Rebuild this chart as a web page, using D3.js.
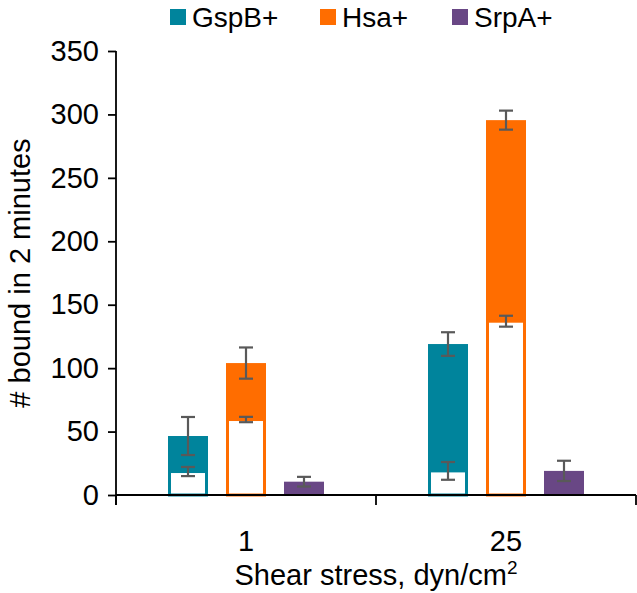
<!DOCTYPE html>
<html><head><meta charset="utf-8">
<script src="https://cdn.jsdelivr.net/npm/d3@7"></script>
<style>body{margin:0;background:#fff}svg{display:block;font-family:"Liberation Sans",Arial,sans-serif}</style>
</head><body><svg id="c" width="637" height="593"></svg>
<script>
const categories = ["1", "25"];
const seriesNames = ["GspB+", "Hsa+", "SrpA+"];
const seriesColors = ["#00849C", "#FF6D00", "#694785"];
const gspbTotal = [46.5, 119];
const hsaTotal = [104, 295.5];
const srpaTotal = [10.5, 19];
const gspbTotalErr = [15, 9.3];
const hsaTotalErr = [12.3, 7.5];
const srpaTotalErr = [3.8, 8];
const gspbFirm = [18.5, 19];
const hsaFirm = [59.5, 137];
const srpaFirm = [0, 0];
const gspbFirmErr = [3.6, 7];
const hsaFirmErr = [2.1, 4.3];
const srpaFirmErr = [0, 0];
const yTicks = [0, 50, 100, 150, 200, 250, 300, 350];

const totals = [gspbTotal, hsaTotal, srpaTotal];
const totalErrs = [gspbTotalErr, hsaTotalErr, srpaTotalErr];
const firms = [gspbFirm, hsaFirm, srpaFirm];
const firmErrs = [gspbFirmErr, hsaFirmErr, srpaFirmErr];

const rows = [];
categories.forEach((c, ci) => seriesNames.forEach((s, si) => rows.push({
  cat: c, ser: s, color: seriesColors[si],
  total: totals[si][ci], totalErr: totalErrs[si][ci],
  firm: firms[si][ci], firmErr: firmErrs[si][ci]
})));

const svg = d3.select("#c");
const L = 116, R = 636, T = 51, B = 495;
const FS = 29;
const x0 = d3.scaleBand().domain(categories).range([L, R]).padding(0);
const x1 = d3.scaleBand().domain(seriesNames).range([52, 208]).paddingInner(18/58).paddingOuter(0);
const y = d3.scaleLinear().domain([0, 350]).range([B, T]);

// bars
const g = svg.append("g");
rows.forEach(d => {
  const bx = x0(d.cat) + x1(d.ser), bw = x1.bandwidth();
  g.append("rect").attr("x", bx).attr("width", bw)
    .attr("y", y(d.total)).attr("height", B - y(d.total)).attr("fill", d.color);
  if (d.firm > 0) {
    g.append("rect").attr("x", bx + 1.5).attr("width", bw - 3)
      .attr("y", y(d.firm)).attr("height", B - y(d.firm))
      .attr("fill", "#fff").attr("stroke", d.color).attr("stroke-width", 3);
  }
});

// error bars
const eg = svg.append("g").attr("stroke", "#595959").attr("stroke-width", 2.2);
function errBar(cx, v, e) {
  const cw = 7;
  eg.append("line").attr("x1", cx).attr("x2", cx).attr("y1", y(v + e)).attr("y2", y(v - e));
  eg.append("line").attr("x1", cx - cw).attr("x2", cx + cw).attr("y1", y(v + e)).attr("y2", y(v + e));
  eg.append("line").attr("x1", cx - cw).attr("x2", cx + cw).attr("y1", y(v - e)).attr("y2", y(v - e));
}
rows.forEach(d => {
  const cx = x0(d.cat) + x1(d.ser) + x1.bandwidth() / 2;
  errBar(cx, d.total, d.totalErr);
  if (d.firm > 0) errBar(cx, d.firm, d.firmErr);
});

// y axis
const ya = svg.append("g").attr("transform", `translate(${L},0)`)
  .call(d3.axisLeft(y).tickValues(yTicks).tickSize(8).tickSizeOuter(0).tickPadding(9));
ya.select(".domain").attr("stroke", "#000").attr("stroke-width", 1.8).attr("d", `M0,${T}V${B + 10}`);
ya.selectAll(".tick line").attr("stroke", "#000").attr("stroke-width", 1.8);
ya.selectAll(".tick text").attr("font-size", FS).attr("fill", "#000")
  .attr("font-family", "Liberation Sans, Arial, sans-serif");

// x axis
const xa = svg.append("g").attr("transform", `translate(0,${B})`);
xa.append("line").attr("x1", L).attr("x2", R).attr("y1", 0).attr("y2", 0).attr("stroke", "#000").attr("stroke-width", 1.8);
const bounds = categories.map(c => x0(c)).concat([R]);
bounds.forEach(bx => xa.append("line").attr("x1", bx).attr("x2", bx).attr("y1", 0).attr("y2", 10).attr("stroke", "#000").attr("stroke-width", 1.8));
categories.forEach(c => xa.append("text").attr("x", x0(c) + x0.bandwidth() / 2).attr("y", 56)
  .attr("text-anchor", "middle").attr("font-size", FS).attr("fill", "#000").text(c));

// axis titles
const xt = svg.append("text").attr("x", (L + R) / 2).attr("y", 585).attr("text-anchor", "middle")
  .attr("font-size", FS).attr("fill", "#000");
xt.append("tspan").text("Shear stress, dyn/cm");
xt.append("tspan").attr("font-size", 19).attr("dy", -11).text("2");

svg.append("text").attr("transform", `translate(30,${(T + B) / 2}) rotate(-90)`)
  .attr("text-anchor", "middle").attr("font-size", FS).attr("fill", "#000").text("# bound in 2 minutes");

// legend
const legX = [170, 320, 452];
seriesNames.forEach((s, i) => {
  svg.append("rect").attr("x", legX[i]).attr("y", 9).attr("width", 16).attr("height", 16).attr("fill", seriesColors[i]);
  svg.append("text").attr("x", legX[i] + 22).attr("y", 27).attr("font-size", 28).attr("fill", "#000").text(s);
});
</script></body></html>
